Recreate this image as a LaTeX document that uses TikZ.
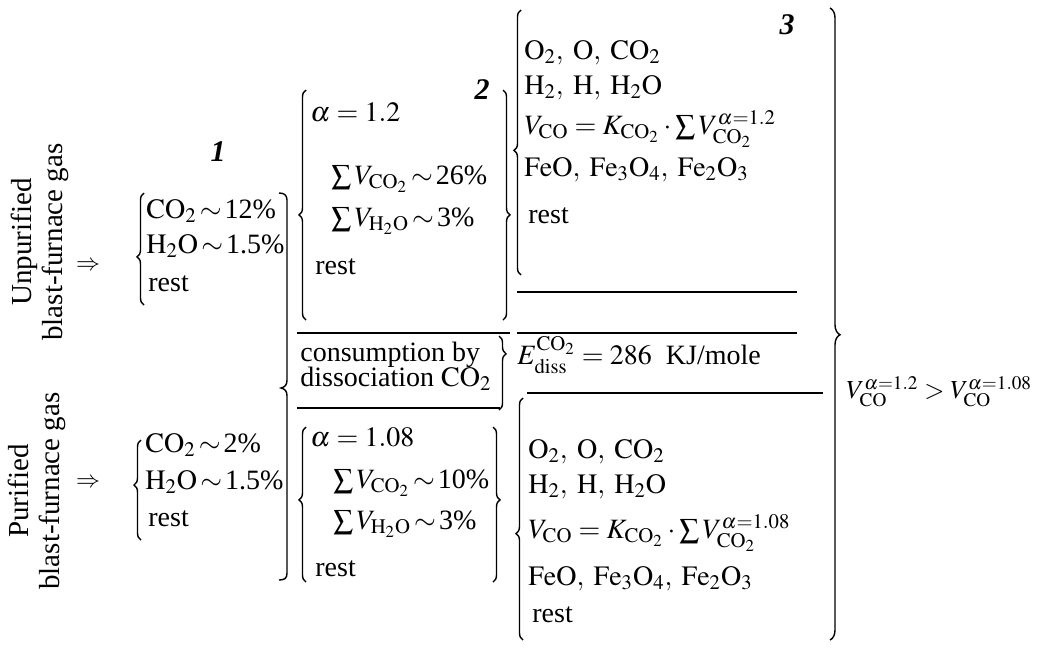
\documentclass[tikz,border=0pt]{standalone}
\usepackage{mathptmx}
\usepackage{fontspec}
\setmainfont{Liberation Serif}
\usetikzlibrary{decorations.pathreplacing}
\newcommand{\tld}{\mskip2mu{\sim}\mskip2mu}
\begin{document}
\begin{tikzpicture}[x=0.5pt,y=-0.5pt,
  txt/.style={anchor=mid west,inner sep=0pt,font=\fontsize{14}{17}\selectfont},
  lbl/.style={inner sep=0pt,font=\fontsize{15}{17}\selectfont\bfseries\itshape},
  rot/.style={rotate=90,align=center,inner sep=0pt,font=\fontsize{14.5}{15.5}\selectfont},
  hline/.style={line width=0.7pt},
  lbrace/.style={decorate,decoration={brace,amplitude=3.5pt,aspect=#1},line width=0.7pt},
  bigbrace/.style={decorate,decoration={brace,amplitude=5pt,aspect=#1},line width=0.7pt},
]
\useasboundingbox (0,0) rectangle (1037,649);

% rotated labels and arrows
\node[rot] (lblU) at (40,242) {Unpurified\\blast-furnace gas};
\node[rot] (lblP) at (37,491) {Purified\\blast-furnace gas};
\node[inner sep=0pt,font=\fontsize{12}{14}\selectfont] (arrU) at (88,266) {$\Rightarrow$};
\node[inner sep=0pt,font=\fontsize{12}{14}\selectfont] (arrP) at (88,483) {$\Rightarrow$};

% column numbers
\node[lbl] (n1) at (218,152) {1};
\node[lbl] (n2) at (482,90) {2};
\node[lbl] (n3) at (787,25) {3};

% group 1 (upper)
\coordinate (g1ub) at (144,305); \coordinate (g1ut) at (144,193);
\draw[lbrace=0.43] (g1ub) -- (g1ut);
\node[txt] (u1a) at (146,214) {$\mathrm{CO_2}\tld$12\%};
\node[txt] (u1b) at (146,249) {$\mathrm{H_2O}\tld$1.5\%};
\node[txt] (u1c) at (148,287) {rest};

% group 1 (lower)
\coordinate (g1lb) at (141,540); \coordinate (g1lt) at (141,440);
\draw[lbrace=0.55] (g1lb) -- (g1lt);
\node[txt] (l1a) at (145,448) {$\mathrm{CO_2}\tld$2\%};
\node[txt] (l1b) at (145,485) {$\mathrm{H_2O}\tld$1.5\%};
\node[txt] (l1c) at (148,522) {rest};

% combined bracket between columns 1 and 2
\draw[hline] (279,193) .. controls (284,193) and (287,195) .. (287,200)
  -- (287,380) .. controls (287,385) and (285,387) .. (281,388)
  .. controls (285,389) and (287,391) .. (287,396)
  -- (287,573) .. controls (287,578) and (285,580) .. (279,580);

% group 2 (upper)
\coordinate (g2ub) at (306,320); \coordinate (g2ut) at (306,90);
\draw[lbrace=0.457] (g2ub) -- (g2ut);
\coordinate (g2urt) at (503,90); \coordinate (g2urb) at (503,320);
\draw[lbrace=0.543] (g2urt) -- (g2urb);
\node[txt] (u2a) at (310,117) {$\alpha = 1.2$};
\node[txt] (u2b) at (331,180) {$\sum V_{\mathrm{CO_2}} \tld$26\%};
\node[txt] (u2c) at (331,222) {$\sum V_{\mathrm{H_2O}} \tld$3\%};
\node[txt] (u2d) at (315,270) {rest};

% consumption block
\coordinate (c1) at (297,333); \coordinate (c2) at (510,333);
\draw[hline] (c1) -- (c2);
\node[txt] (cons1) at (300,357) {consumption by};
\node[txt] (cons2) at (300,382) {dissociation $\mathrm{CO_2}$};
\coordinate (cbt) at (499,336); \coordinate (cbb) at (499,410);
\draw[lbrace=0.24] (cbt) -- (cbb);
\coordinate (c3) at (297,408); \coordinate (c4) at (500,408);
\draw[hline] (c3) -- (c4);

% group 2 (lower)
\coordinate (g2lb) at (306,582); \coordinate (g2lt) at (306,427);
\draw[lbrace=0.53] (g2lb) -- (g2lt);
\coordinate (g2lrt) at (493,427); \coordinate (g2lrb) at (493,582);
\draw[lbrace=0.47] (g2lrt) -- (g2lrb);
\node[txt] (l2a) at (310,442) {$\alpha = 1.08$};
\node[txt] (l2b) at (333,484) {$\sum V_{\mathrm{CO_2}} \tld$10\%};
\node[txt] (l2c) at (333,525) {$\sum V_{\mathrm{H_2O}} \tld$3\%};
\node[txt] (l2d) at (315,572) {rest};

% group 3 (upper)
\coordinate (g3ub) at (521,275); \coordinate (g3ut) at (521,10);
\draw[lbrace=0.47] (g3ub) -- (g3ut);
\node[txt] (u3a) at (524,55) {$\mathrm{O_2},\;\mathrm{O},\;\mathrm{CO_2}$};
\node[txt] (u3b) at (524,90) {$\mathrm{H_2},\;\mathrm{H},\;\mathrm{H_2O}$};
\node[txt] (u3c) at (524,130) {$V_{\mathrm{CO}} = K_{\mathrm{CO_2}}\cdot\sum V^{\alpha=1.2}_{\mathrm{CO_2}}$};
\node[txt] (u3d) at (524,172) {$\mathrm{FeO},\;\mathrm{Fe_3O_4},\;\mathrm{Fe_2O_3}$};
\node[txt] (u3e) at (528,219) {rest};
\coordinate (h1a) at (517,292); \coordinate (h1b) at (797,292);
\draw[hline] (h1a) -- (h1b);
\coordinate (h2a) at (517,333); \coordinate (h2b) at (797,333);
\draw[hline] (h2a) -- (h2b);

% dissociation energy
\node[txt] (ediss) at (517,360) {$E^{\mathrm{CO_2}}_{\mathrm{diss}} = 286$\enspace KJ/mole};

% group 3 (lower)
\coordinate (h3a) at (527,393); \coordinate (h3b) at (823,393);
\draw[hline] (h3a) -- (h3b);
\coordinate (g3lb) at (523,640); \coordinate (g3lt) at (523,398);
\draw[lbrace=0.44] (g3lb) -- (g3lt);
\node[txt] (l3a) at (528,454) {$\mathrm{O_2},\;\mathrm{O},\;\mathrm{CO_2}$};
\node[txt] (l3b) at (528,489) {$\mathrm{H_2},\;\mathrm{H},\;\mathrm{H_2O}$};
\node[txt] (l3c) at (528,534) {$V_{\mathrm{CO}} = K_{\mathrm{CO_2}}\cdot\sum V^{\alpha=1.08}_{\mathrm{CO_2}}$};
\node[txt] (l3d) at (528,581) {$\mathrm{FeO},\;\mathrm{Fe_3O_4},\;\mathrm{Fe_2O_3}$};
\node[txt] (l3e) at (532,618) {rest};

% big right brace and conclusion
\coordinate (bbt) at (830,8); \coordinate (bbb) at (830,640);
\draw[bigbrace=0.517] (bbt) -- (bbb);
\node[txt,font=\fontsize{13}{15}\selectfont] (concl) at (846,394) {$V^{\alpha=1.2}_{\mathrm{CO}} > V^{\alpha=1.08}_{\mathrm{CO}}$};
\end{tikzpicture}
\end{document}
